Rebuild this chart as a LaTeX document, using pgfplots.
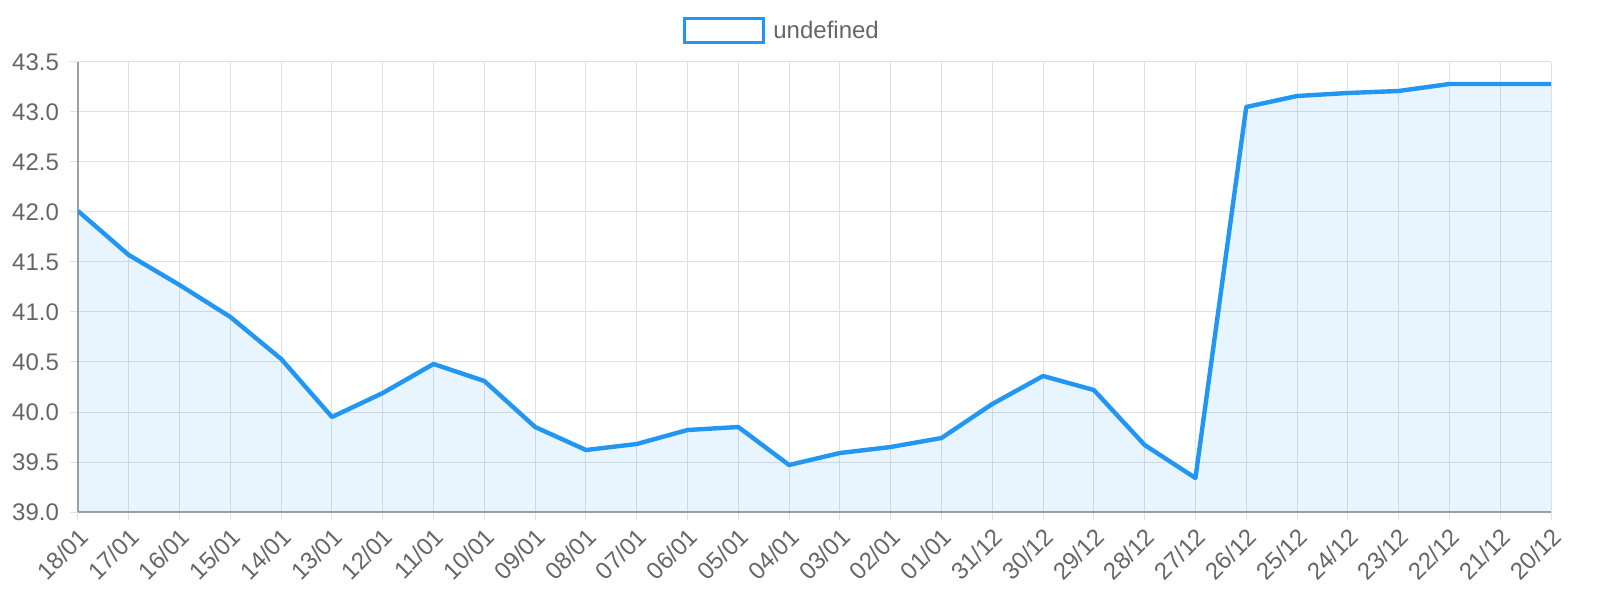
\documentclass[border=0pt]{standalone}
\usepackage{pgfplots}
\pgfplotsset{compat=1.18}
\usepackage{fontspec}
\setmainfont{Liberation Sans}
\definecolor{lineblue}{RGB}{33,150,243}
\definecolor{txtgray}{RGB}{102,102,102}
\definecolor{axgray}{RGB}{160,160,160}
\definecolor{gridgray}{RGB}{224,224,224}

\pgfplotstableread{
x y
0 42.01
1 41.57
2 41.27
3 40.95
4 40.53
5 39.95
6 40.19
7 40.48
8 40.31
9 39.85
10 39.62
11 39.68
12 39.82
13 39.85
14 39.47
15 39.59
16 39.65
17 39.74
18 40.08
19 40.36
20 40.22
21 39.67
22 39.34
23 43.05
24 43.16
25 43.19
26 43.21
27 43.28
28 43.28
29 43.28
}\rates

\begin{document}
\begin{tikzpicture}
\begin{axis}[
    at={(39pt,44pt)}, anchor=south west,
    scale only axis, width=736.5pt, height=225pt,
    xmin=0, xmax=29, ymin=39, ymax=43.5,
    axis lines=left,
    axis line style={-, draw=axgray, line width=0.6pt},
    xtick={0,...,29},
    xticklabels={18/01,17/01,16/01,15/01,14/01,13/01,12/01,11/01,10/01,09/01,08/01,07/01,06/01,05/01,04/01,03/01,02/01,01/01,31/12,30/12,29/12,28/12,27/12,26/12,25/12,24/12,23/12,22/12,21/12,20/12},
    ytick={39,39.5,...,43.5},
    /pgf/number format/fixed, /pgf/number format/fixed zerofill, /pgf/number format/precision=1,
    /pgf/number format/assume math mode=true,
    tick label style={font=\fontsize{12pt}{14pt}\selectfont, text=txtgray},
    x tick label style={rotate=45, anchor=east, xshift=1pt, yshift=-6.5pt},
    y tick label style={xshift=-2pt},
    tick align=outside, major tick length=4pt,
    tick style={draw=gridgray, line width=0.5pt},
    grid=major,
    major grid style={draw=gridgray, line width=0.5pt},
    legend style={at={(0.4107,1.069)}, anchor=west, draw=none, fill=none,
        font=\fontsize{12pt}{14pt}\selectfont, text=txtgray, inner sep=0pt,
        /tikz/every odd column/.append style={column sep=2pt}},
    legend image code/.code={\draw[line width=1.5pt, draw=lineblue, fill=lineblue!10] (0pt,-6pt) rectangle (39.5pt,6pt);},
]
\addplot[draw=none, fill=lineblue, fill opacity=0.1] table {\rates} \closedcycle;
\addplot[forget plot, draw=lineblue, line width=2.2pt, line join=round] table {\rates};
\legend{undefined}
\end{axis}
\pgfresetboundingbox
\path[use as bounding box] (0,0) rectangle (800pt,300pt);
\end{tikzpicture}
\end{document}
